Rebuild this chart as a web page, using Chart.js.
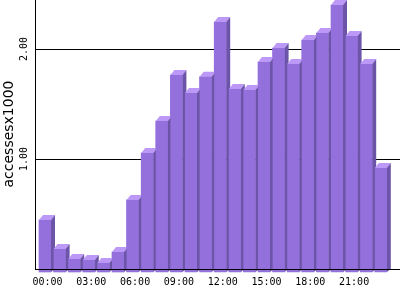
<!DOCTYPE html>
<html>
<head>
<meta charset="utf-8">
<script src="https://cdn.jsdelivr.net/npm/chart.js@4"></script>
<style>
  html, body { margin: 0; padding: 0; background: #fff; }
  #wrap { width: 400px; height: 300px; }
</style>
</head>
<body>
<div id="wrap"><canvas id="bar-chart"></canvas></div>
<script>
// hours of the day
const hours = ['00:00', '01:00', '02:00', '03:00', '04:00', '05:00', '06:00', '07:00',
  '08:00', '09:00', '10:00', '11:00', '12:00', '13:00', '14:00', '15:00',
  '16:00', '17:00', '18:00', '19:00', '20:00', '21:00', '22:00', '23:00'];
// accesses per hour, in thousands
const accesses = [0.473, 0.209, 0.118, 0.109, 0.082, 0.182, 0.655, 1.082,
  1.373, 1.791, 1.627, 1.775, 2.273, 1.664, 1.655, 1.909,
  2.036, 1.891, 2.109, 2.173, 2.427, 2.145, 1.891, 0.945];
const yTicks = [1, 2];
const yTickLabels = ['1.00', '2.00'];
const yTitle = 'accessesx1000';

const FRONT = '#9370db';
const TOP = '#bc99f7';
const SIDE = '#6c54a8';
const DX = 4, DY = 5;     // depth of the 3d bars
const BACK = 3;           // grid sits this far behind the bar fronts

function line(c, x0, y0, x1, y1) {
  c.beginPath();
  c.moveTo(x0, y0);
  c.lineTo(x1, y1);
  c.stroke();
}

// grid, axis and 3d faces of the bars
const frame = {
  id: 'frame',
  beforeDatasetsDraw(chart) {
    const c = chart.ctx, y = chart.scales.y, a = chart.chartArea;
    c.save();
    c.strokeStyle = '#000';
    c.lineWidth = 1;
    yTicks.forEach(v => {
      const py = Math.round(y.getPixelForValue(v) - BACK) + 0.5;
      line(c, 35, py, 400, py);
    });
    const by = Math.round(y.getPixelForValue(0) - BACK);
    line(c, 35.5, a.top, 35.5, by);
    c.restore();
  },
  afterDatasetsDraw(chart) {
    const c = chart.ctx, y = chart.scales.y;
    const bars = chart.getDatasetMeta(0).data;
    c.save();
    bars.forEach(b => {
      const x0 = b.x - b.width / 2, x1 = b.x + b.width / 2;
      const top = b.y, base = b.base;
      c.fillStyle = TOP;
      c.beginPath();
      c.moveTo(x0, top); c.lineTo(x1, top);
      c.lineTo(x1 + DX, top - DY); c.lineTo(x0 + DX, top - DY);
      c.closePath(); c.fill();
      c.fillStyle = SIDE;
      c.beginPath();
      c.moveTo(x1, top); c.lineTo(x1 + DX, top - DY);
      c.lineTo(x1 + DX, base - BACK); c.lineTo(x1, base);
      c.closePath(); c.fill();
      c.fillStyle = FRONT;
      c.fillRect(x0, top, x1 - x0, base - top);
    });
    // base line over the bars
    c.strokeStyle = '#000';
    c.lineWidth = 1;
    const by = Math.round(y.getPixelForValue(0) - BACK) + 0.5;
    line(c, 35, by, 400, by);

    // y tick labels and title, rotated
    c.fillStyle = '#000';
    c.textAlign = 'center';
    c.textBaseline = 'middle';
    c.font = '10px "DejaVu Sans Mono"';
    yTicks.forEach((v, i) => {
      const py = y.getPixelForValue(v) - BACK;
      c.save();
      c.translate(24, py);
      c.rotate(-Math.PI / 2);
      c.fillText(yTickLabels[i], 0, 0);
      c.restore();
    });
    c.font = '14px "DejaVu Sans"';
    c.save();
    c.translate(9, 134);
    c.rotate(-Math.PI / 2);
    c.fillText(yTitle, 0, 0);
    c.restore();
    c.restore();
  }
};

new Chart(document.getElementById('bar-chart'), {
  type: 'bar',
  data: {
    labels: hours,
    datasets: [{
      data: accesses,
      backgroundColor: FRONT,
      borderWidth: 0,
      barThickness: 12,
      clip: false
    }]
  },
  options: {
    responsive: true,
    maintainAspectRatio: false,
    animation: false,
    events: [],
    layout: { padding: { left: 37.7, right: 11.9, top: 0, bottom: 8 } },
    plugins: { legend: { display: false }, tooltip: { enabled: false } },
    scales: {
      x: {
        grid: { display: false, drawTicks: false },
        border: { display: false },
        ticks: {
          autoSkip: false,
          maxRotation: 0,
          padding: 4,
          labelOffset: 2.5,
          color: '#000',
          font: { family: '"DejaVu Sans Mono"', size: 10 },
          callback: (v, i) => i % 3 === 0 ? hours[i] : ''
        }
      },
      y: {
        display: false,
        min: 0,
        max: 2.4727
      }
    }
  },
  plugins: [frame]
});
</script>
</body>
</html>
